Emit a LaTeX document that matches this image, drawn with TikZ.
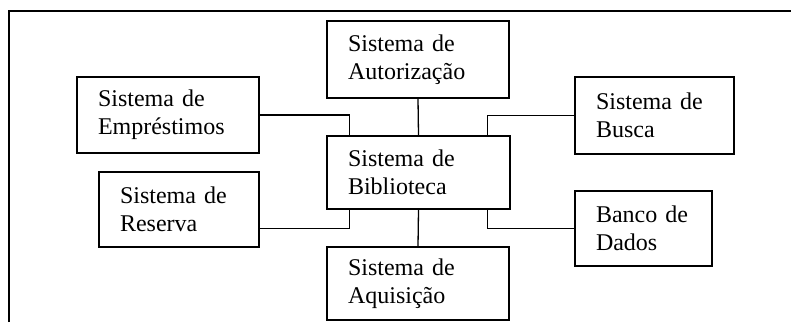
\documentclass[tikz,border=0pt]{standalone}
\usepackage{fontspec}
\setmainfont{Liberation Serif}
\begin{document}
\begin{tikzpicture}[x=1pt,y=-1pt,line width=1.3pt,
	sysbox/.style={draw,align=left,inner xsep=21pt,inner ysep=0pt,font=\fontsize{24}{28}\selectfont}]
	\useasboundingbox (0,0) rectangle (791,322);
	\draw (9,322) -- (9,11) -- (791,11);
	\node[sysbox,text width=140pt,minimum height=77pt] (aut) at (418,59.5) {Sistema de\\Autorização};
	\node[sysbox,text width=140pt,minimum height=76pt] (emp) at (168,115) {Sistema de\\Empréstimos};
	\node[sysbox,text width=117pt,minimum height=77pt] (bus) at (654.5,115.5) {Sistema de\\Busca};
	\node[sysbox,text width=141pt,minimum height=73pt] (bib) at (418.5,172.5) {Sistema de\\Biblioteca};
	\node[sysbox,text width=118pt,minimum height=75pt] (res) at (179,209.5) {Sistema de\\Reserva};
	\node[sysbox,text width=95pt,minimum height=75pt] (ban) at (643.5,228.5) {Banco de\\Dados};
	\node[sysbox,text width=140pt,minimum height=73pt] (aqu) at (418,283.5) {Sistema de\\Aquisição};
	\draw (aut.south) -- (bib.north);
	\draw (bib.south) -- (aqu.north);
	\draw (emp.east) -| ([xshift=23pt]bib.north west);
	\draw (bus.west) -| ([xshift=-23pt]bib.north east);
	\draw ([yshift=19pt]res.south east) -| ([xshift=23pt]bib.south west);
	\draw (ban.west) -| ([xshift=-23pt]bib.south east);
\end{tikzpicture}
\end{document}
